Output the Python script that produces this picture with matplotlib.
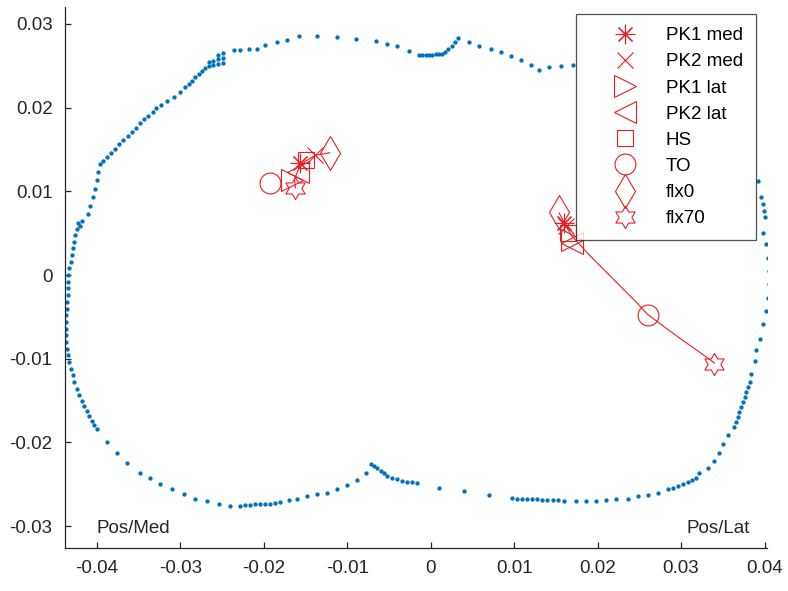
import numpy as np
import matplotlib
matplotlib.use("Agg")
import matplotlib.pyplot as plt
import matplotlib.path as mpath
from matplotlib.lines import Line2D

plt.rcParams['font.family'] = ['Liberation Sans', 'DejaVu Sans']
plt.rcParams['axes.unicode_minus'] = False

# ---- tibial plateau outline (sampled contour points) ----
contour_x = [
    -0.0400, -0.0403, -0.0406, -0.0409, -0.0412, -0.0415, -0.0418, -0.0421, -0.0424, -0.0427,
    -0.0429, -0.0431, -0.0433, -0.0435, -0.0436, -0.0437, -0.0437, -0.0437, -0.0437, -0.0437,
    -0.0436, -0.0436, -0.0435, -0.0435, -0.0434, -0.0434,
    -0.0433, -0.0431, -0.0430, -0.0429, -0.0427, -0.0426, -0.0424, -0.0422, -0.0420, -0.0418,
    -0.0410, -0.0408, -0.0404, -0.0402, -0.0400, -0.0398, -0.0396,
    -0.0393, -0.0388, -0.0383, -0.0378, -0.0373, -0.0368, -0.0363, -0.0358, -0.0353, -0.0348,
    -0.0343, -0.0338, -0.0333, -0.0329,
    -0.0323, -0.0316, -0.0308, -0.0300,
    -0.0294, -0.0290, -0.0286, -0.0282, -0.0278, -0.0274, -0.0270,
    -0.0266, -0.0266, -0.0261, -0.0261, -0.0255, -0.0255, -0.0255, -0.0249, -0.0249, -0.0249,
    -0.0236, -0.0228, -0.0218, -0.0208, -0.0198, -0.0184, -0.0172, -0.0158, -0.0136, -0.0112,
    -0.0090, -0.0066, -0.0052, -0.0040, -0.0026,
    -0.0014, -0.0010, -0.0006, -0.0002, 0.0002, 0.0006, 0.0010, 0.0014,
    0.0017, 0.0021, 0.0025, 0.0029, 0.0033,
    0.0046, 0.0058, 0.0072, 0.0084, 0.0096, 0.0108, 0.0120, 0.0130, 0.0142, 0.0156, 0.0170,
    0.0392, 0.0396, 0.0398, 0.0399, 0.0400, 0.0398, 0.0402, 0.0404, 0.0405, 0.0405,
    0.0404, 0.0402, 0.0398, 0.0394, 0.0390, 0.0388, 0.0384,
    0.0382, 0.0380, 0.0378, 0.0376, 0.0374, 0.0372, 0.0370, 0.0368, 0.0366, 0.0363,
    0.0356, 0.0350, 0.0346, 0.0340, 0.0332,
    0.0322, 0.0318, 0.0313, 0.0308, 0.0302, 0.0296, 0.0290, 0.0284,
    0.0272, 0.0260, 0.0248, 0.0236, 0.0222, 0.0210, 0.0198, 0.0186, 0.0174, 0.0160,
    0.0152, 0.0146, 0.0140, 0.0134, 0.0128, 0.0122, 0.0116, 0.0110, 0.0104, 0.0098,
    0.0070, 0.0040, 0.0010, -0.0016, -0.0022,
    -0.0028, -0.0034, -0.0040, -0.0046, -0.0052, -0.0056, -0.0060, -0.0064, -0.0068,
    -0.0072,
    -0.0078, -0.0088, -0.0100, -0.0112, -0.0124, -0.0136, -0.0148, -0.0160, -0.0170,
    -0.0180, -0.0186, -0.0192, -0.0198, -0.0204, -0.0210, -0.0216, -0.0222, -0.0228,
    -0.0240, -0.0254, -0.0268, -0.0282, -0.0296, -0.0310, -0.0324, -0.0336, -0.0348, -0.0364,
    -0.0376, -0.0388,
]
contour_y = [
    -0.0184, -0.0179, -0.0174, -0.0168, -0.0162, -0.0156, -0.0150, -0.0143, -0.0136, -0.0128,
    -0.0120, -0.0112, -0.0104, -0.0096, -0.0088, -0.0080, -0.0072, -0.0064, -0.0056, -0.0048,
    -0.0040, -0.0032, -0.0024, -0.0016, -0.0008, 0.0000,
    0.0008, 0.0016, 0.0024, 0.0032, 0.0040, 0.0048, 0.0055, 0.0062, 0.0058, 0.0064,
    0.0073, 0.0083, 0.0093, 0.0103, 0.0113, 0.0123, 0.0133,
    0.0136, 0.0141, 0.0146, 0.0151, 0.0156, 0.0161, 0.0166, 0.0171, 0.0176, 0.0181,
    0.0186, 0.0190, 0.0195, 0.0199,
    0.0203, 0.0208, 0.0213, 0.0219,
    0.0225, 0.0228, 0.0232, 0.0236, 0.0240, 0.0244, 0.0247,
    0.0250, 0.0254, 0.0251, 0.0256, 0.0252, 0.0258, 0.0263, 0.0253, 0.0259, 0.0265,
    0.0269, 0.0269, 0.0270, 0.0270, 0.0275, 0.0278, 0.0281, 0.0286, 0.0285, 0.0284,
    0.0282, 0.0280, 0.0276, 0.0273, 0.0267,
    0.0263, 0.0263, 0.0263, 0.0263, 0.0263, 0.0264, 0.0264, 0.0264,
    0.0266, 0.0270, 0.0274, 0.0278, 0.0283,
    0.0278, 0.0273, 0.0270, 0.0266, 0.0261, 0.0257, 0.0251, 0.0245, 0.0248, 0.0250, 0.0251,
    0.0112, 0.0093, 0.0085, 0.0077, 0.0069, 0.0050, 0.0037, 0.0020, 0.0005, -0.0011,
    -0.0028, -0.0043, -0.0059, -0.0076, -0.0089, -0.0103, -0.0118,
    -0.0128, -0.0134, -0.0140, -0.0146, -0.0152, -0.0158, -0.0164, -0.0170, -0.0176, -0.0182,
    -0.0191, -0.0202, -0.0213, -0.0222, -0.0230,
    -0.0237, -0.0242, -0.0245, -0.0247, -0.0250, -0.0252, -0.0254, -0.0256,
    -0.0260, -0.0263, -0.0264, -0.0267, -0.0268, -0.0269, -0.0270, -0.0270, -0.0270, -0.0270,
    -0.0269, -0.0269, -0.0269, -0.0269, -0.0268, -0.0268, -0.0268, -0.0268, -0.0267, -0.0266,
    -0.0263, -0.0258, -0.0254, -0.0248, -0.0247,
    -0.0247, -0.0246, -0.0244, -0.0242, -0.0240, -0.0237, -0.0234, -0.0231, -0.0228,
    -0.0226,
    -0.0236, -0.0245, -0.0251, -0.0256, -0.0260, -0.0262, -0.0264, -0.0268, -0.0269,
    -0.0271, -0.0272, -0.0273, -0.0273, -0.0274, -0.0274, -0.0275, -0.0275, -0.0276,
    -0.0276, -0.0274, -0.0270, -0.0268, -0.0262, -0.0256, -0.0250, -0.0242, -0.0236, -0.0224,
    -0.0212, -0.0200,
]

# ---- centre-of-pressure traces ----
med_path_x = [-0.0121, -0.0138, -0.0150, -0.0158, -0.0163, -0.0162]
med_path_y = [0.0146, 0.0143, 0.0136, 0.0127, 0.0115, 0.0104]
lat_path_x = [0.0154, 0.0162, 0.0169, 0.0178, 0.0190, 0.0208, 0.0226, 0.0244, 0.0260,
              0.0280, 0.0302, 0.0322, 0.0340]
lat_path_y = [0.0074, 0.0059, 0.0047, 0.0037, 0.0024, 0.0006, -0.0012, -0.0030, -0.0047,
              -0.0062, -0.0078, -0.0092, -0.0105]

# ---- gait events on the medial / lateral traces ----
events = ['PK1 med', 'PK2 med', 'PK1 lat', 'PK2 lat', 'HS', 'TO', 'flx0', 'flx70']
event_med_x = [-0.0156, -0.0138, -0.0166, -0.0159, -0.0149, -0.0192, -0.0121, -0.0162]
event_med_y = [0.0134, 0.0143, 0.0114, 0.0123, 0.0137, 0.0110, 0.0146, 0.0104]
event_lat_x = [0.0160, 0.0162, 0.0169, 0.0169, 0.0165, 0.0260, 0.0154, 0.0340]
event_lat_y = [0.0062, 0.0059, 0.0042, 0.0038, 0.0050, -0.0048, 0.0075, -0.0106]

x_ticks = [-0.04, -0.03, -0.02, -0.01, 0, 0.01, 0.02, 0.03, 0.04]
x_ticklabels = ['-0.04', '-0.03', '-0.02', '-0.01', '0', '0.01', '0.02', '0.03', '0.04']
y_ticks = [-0.03, -0.02, -0.01, 0, 0.01, 0.02, 0.03]
y_ticklabels = ['-0.03', '-0.02', '-0.01', '0', '0.01', '0.02', '0.03']

# six-pointed star marker
ang = np.deg2rad(np.arange(12) * 30 + 90)
rad = np.where(np.arange(12) % 2 == 0, 1.0, 1 / np.sqrt(3))
star_v = np.column_stack([rad * np.cos(ang), rad * np.sin(ang)])
hexagram = mpath.Path(np.vstack([star_v, star_v[:1]]), closed=True)

marker_styles = {
    'PK1 med': ((8, 2, 0), 14),
    'PK2 med': ('x', 12),
    'PK1 lat': ('>', 16),
    'PK2 lat': ('<', 16),
    'HS': ('s', 12),
    'TO': ('o', 15),
    'flx0': ('d', 17),
    'flx70': (hexagram, 16),
}

RED = '#ec1c24'
BLUE = '#0072BD'
AXC = '#262626'

fig = plt.figure(figsize=(7.88, 5.91), dpi=100)
ax = fig.add_axes([0.0825, 0.0728, 0.8909, 0.9152])

ax.plot(contour_x, contour_y, ls='none', marker='.', ms=4.2, color=BLUE, zorder=2)

ax.plot(med_path_x, med_path_y, color=RED, lw=0.8, zorder=3)
ax.plot(lat_path_x, lat_path_y, color=RED, lw=0.8, zorder=3)

handles = []
for i, name in enumerate(events):
    mk, ms = marker_styles[name]
    ax.plot([event_med_x[i], event_lat_x[i]], [event_med_y[i], event_lat_y[i]],
            ls='none', marker=mk, ms=ms, mfc='none', mec=RED, mew=0.8, zorder=4)
    handles.append(Line2D([], [], ls='none', marker=mk, ms=ms, mfc='none',
                          mec=RED, mew=0.8))

ax.text(-0.0400, -0.0303, 'Pos/Med', fontsize=13.5, color=AXC, ha='left', va='center')
ax.text(0.0383, -0.0303, 'Pos/Lat', fontsize=13.5, color=AXC, ha='right', va='center')

ax.set_xlim(-0.0438, 0.0403)
ax.set_ylim(-0.0326, 0.0320)
ax.set_xticks(x_ticks)
ax.set_xticklabels(x_ticklabels)
ax.set_yticks(y_ticks)
ax.set_yticklabels(y_ticklabels)

for side in ('top', 'right'):
    ax.spines[side].set_visible(False)
for side in ('left', 'bottom'):
    ax.spines[side].set_color(AXC)
    ax.spines[side].set_linewidth(0.9)
ax.tick_params(axis='both', direction='in', length=4, width=0.9, color=AXC,
               labelcolor=AXC, labelsize=13.5)
ax.tick_params(axis='x', pad=9)
ax.tick_params(axis='y', pad=9)

leg = ax.legend(handles, events, loc='upper right', bbox_to_anchor=(0.984, 0.987),
                fontsize=13.5, frameon=True, fancybox=False, borderpad=0.7,
                handlelength=3.9, handletextpad=0.2, labelspacing=0.48,
                borderaxespad=0)
leg.get_frame().set_edgecolor(AXC)
leg.get_frame().set_linewidth(0.9)
leg.set_zorder(10)

fig.savefig('out.png', dpi=100)
